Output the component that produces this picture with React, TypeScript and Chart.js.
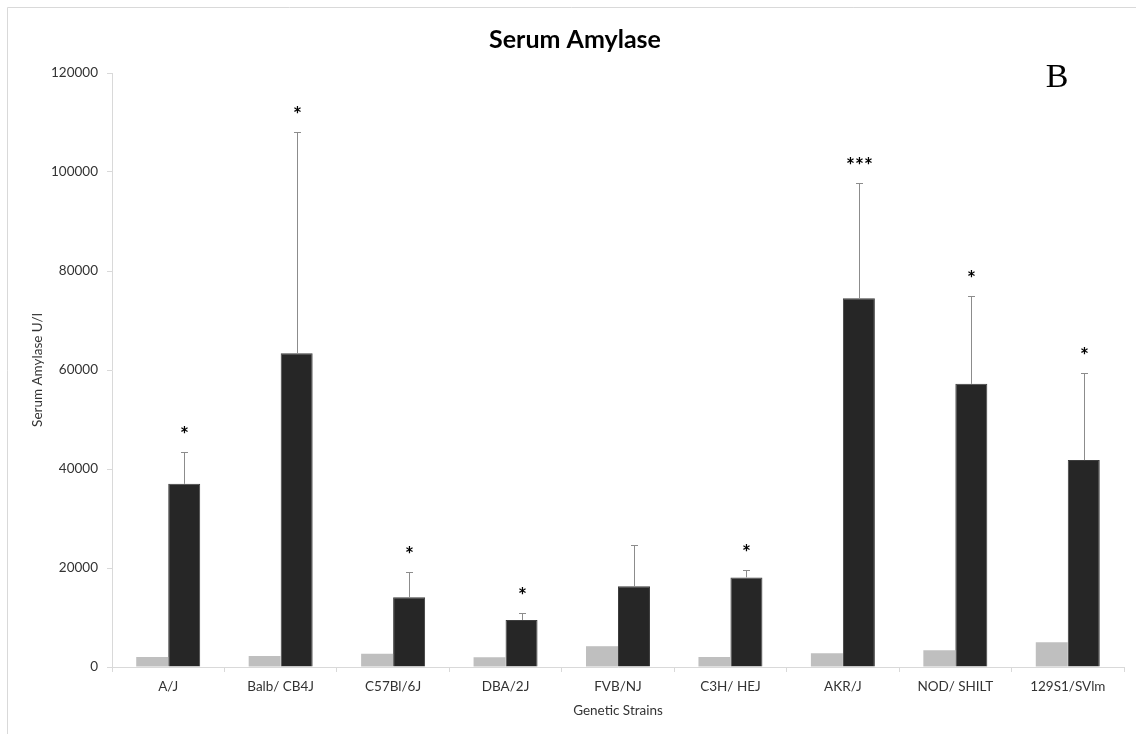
import React, { useEffect, useRef } from "react";
import { Chart, registerables } from "chart.js";

Chart.register(...registerables);

const strains = ["A/J", "Balb/ CB4J", "C57Bl/6J", "DBA/2J", "FVB/NJ", "C3H/ HEJ", "AKR/J", "NOD/ SHILT", "129S1/SVlm"];
const controlValues = [2000, 2200, 2700, 1950, 4200, 2000, 2800, 3400, 5000];
const treatedValues = [37000, 63400, 14100, 9500, 16300, 18100, 74500, 57200, 41800];
const treatedErrors = [6400, 44700, 5100, 1400, 8300, 1400, 23300, 17800, 17600];
const significance = ["*", "*", "*", "*", "", "*", "***", "*", "*"];
const yTicks = [0, 20000, 40000, 60000, 80000, 100000, 120000];

const FONT = "Lato, 'Open Sans', sans-serif";

const decorPlugin = {
  id: "decor",
  beforeDraw(chart: any) {
    const ctx = chart.ctx;
    ctx.save();
    ctx.fillStyle = "#ffffff";
    ctx.fillRect(0, 0, chart.width, chart.height);
    ctx.strokeStyle = "#d9d9d9";
    ctx.lineWidth = 1;
    ctx.beginPath();
    ctx.moveTo(7.5, chart.height);
    ctx.lineTo(7.5, 7.5);
    ctx.lineTo(chart.width, 7.5);
    ctx.stroke();
    ctx.restore();
  },
  afterDraw(chart: any) {
    const ctx = chart.ctx;
    const area = chart.chartArea;
    ctx.save();
    ctx.fillStyle = "#000000";
    ctx.font = `bold 25px ${FONT}`;
    ctx.textAlign = "center";
    ctx.textBaseline = "middle";
    ctx.fillText("Serum Amylase", 575, 40);
    ctx.font = "34px 'Liberation Serif', 'DejaVu Serif', serif";
    ctx.fillText("B", 1057, 78);
    ctx.fillStyle = "#333333";
    ctx.font = `13.5px ${FONT}`;
    ctx.fillText("Genetic Strains", (area.left + area.right) / 2, 711);
    ctx.translate(38, (area.top + area.bottom) / 2);
    ctx.rotate(-Math.PI / 2);
    ctx.fillText("Serum Amylase U/l", 0, 0);
    ctx.restore();
  },
  afterDatasetsDraw(chart: any) {
    const ctx = chart.ctx;
    const yScale = chart.scales.y;
    const meta = chart.getDatasetMeta(1);
    ctx.save();
    meta.data.forEach((bar: any, i: number) => {
      const x = Math.round(bar.x) + 0.5;
      const top = yScale.getPixelForValue(treatedValues[i] + treatedErrors[i]);
      ctx.strokeStyle = "#8c8c8c";
      ctx.lineWidth = 1;
      ctx.beginPath();
      ctx.moveTo(x, bar.y);
      ctx.lineTo(x, Math.round(top) + 0.5);
      ctx.moveTo(x - 3.5, Math.round(top) + 0.5);
      ctx.lineTo(x + 3.5, Math.round(top) + 0.5);
      ctx.stroke();
      if (significance[i]) {
        ctx.fillStyle = "#000000";
        ctx.font = `bold 21px ${FONT}`;
        ctx.textAlign = "center";
        ctx.textBaseline = "middle";
        ctx.fillText(significance[i], x, top - 17);
      }
    });
    ctx.restore();
  },
};

export default function App() {
  const ref = useRef<HTMLCanvasElement | null>(null);
  useEffect(() => {
    if (!ref.current) return;
    const chart = new Chart(ref.current, {
      type: "bar",
      data: {
        labels: strains,
        datasets: [
          {
            label: "Control",
            data: controlValues,
            backgroundColor: "#bfbfbf",
            borderWidth: 0,
            categoryPercentage: 0.569,
            barPercentage: 1.0,
          },
          {
            label: "Treated",
            data: treatedValues,
            backgroundColor: "#262626",
            borderColor: "#3d3d3d",
            borderWidth: 1,
            categoryPercentage: 0.569,
            barPercentage: 1.0,
          },
        ],
      },
      options: {
        responsive: false,
        animation: false,
        devicePixelRatio: 1,
        layout: { padding: { top: 73, right: 12, bottom: 0, left: 0 } },
        plugins: {
          legend: { display: false },
          title: { display: false },
          tooltip: { enabled: false },
        },
        scales: {
          x: {
            afterFit(scale: any) {
              scale.height = 67;
            },
            grid: {
              display: true,
              drawOnChartArea: false,
              drawTicks: true,
              tickLength: 5,
              color: "#d9d9d9",
              offset: true,
            },
            border: { display: true, color: "#d9d9d9", width: 1 },
            ticks: {
              color: "#333333",
              font: { family: FONT, size: 13.5 },
              padding: 7,
              maxRotation: 0,
              autoSkip: false,
            },
          },
          y: {
            min: 0,
            max: 120000,
            afterFit(scale: any) {
              scale.width = 112;
            },
            afterBuildTicks(scale: any) {
              scale.ticks = yTicks.map((v) => ({ value: v }));
            },
            grid: {
              display: true,
              drawOnChartArea: false,
              drawTicks: true,
              tickLength: 5,
              color: "#d9d9d9",
            },
            border: { display: true, color: "#d9d9d9", width: 1 },
            ticks: {
              color: "#333333",
              font: { family: FONT, size: 13.5 },
              padding: 9,
              callback: (v: any) => String(v),
            },
          },
        },
      },
      plugins: [decorPlugin],
    });
    return () => chart.destroy();
  }, []);
  return (
    <div style={{ position: "fixed", left: 0, top: 0, width: 1136, height: 734, background: "#fff" }}>
      <canvas ref={ref} width={1136} height={734} style={{ width: 1136, height: 734, display: "block" }} />
    </div>
  );
}
